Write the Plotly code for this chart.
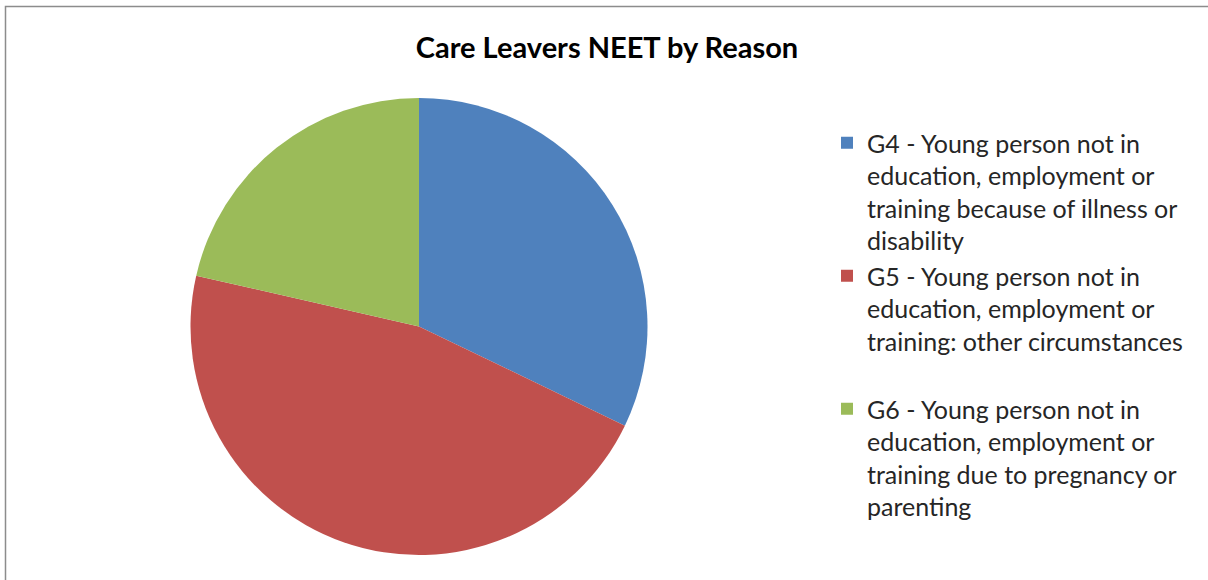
import plotly.graph_objects as go

# Care leavers NEET, split by reason
reasons = [
    "G4 - Young person not in<br>education, employment or<br>training because of illness or<br>disability",
    "G5 - Young person not in<br>education, employment or<br>training: other circumstances<br> ",
    "G6 - Young person not in<br>education, employment or<br>training due to pregnancy or<br>parenting",
]
counts = [9, 13, 6]
couleurs = ["#4F81BD", "#C0504D", "#9BBB59"]

W, H = 1208, 580
cx, cy, r = 419, 326.5, 228.5

fig = go.Figure(data=[go.Pie(
    labels=reasons,
    values=counts,
    sort=False,
    direction="clockwise",
    rotation=0,
    textinfo="none",
    marker=dict(colors=couleurs, line=dict(width=0)),
    domain=dict(x=[(cx - r) / W, (cx + r) / W], y=[(H - cy - r) / H, (H - cy + r) / H]),
)])

fig.update_layout(
    width=W, height=H,
    margin=dict(l=0, r=0, t=0, b=0),
    paper_bgcolor="white",
    font=dict(family="Lato", color="#262626"),
    title=dict(text="<b>Care Leavers NEET by Reason</b>", x=0.5025, xanchor="center",
               y=1 - 48 / H, yanchor="middle", font=dict(size=29, color="black")),
    legend=dict(x=827 / W, xanchor="left", y=1 - 120 / H, yanchor="top",
                font=dict(size=25, color="#262626"), itemsizing="constant",
                traceorder="normal", valign="top"),
    shapes=[dict(type="rect", xref="paper", yref="paper",
                 x0=5.5 / W, x1=1 + 10 / W, y0=-10 / H, y1=1 - 6.5 / H,
                 line=dict(color="#8c8c8c", width=1.5))],
)

# la page html a une marge de 8px par defaut, on l'enleve
fig.write_html("out.html", config={"displayModeBar": False},
               post_script="document.body.style.margin='0';")
